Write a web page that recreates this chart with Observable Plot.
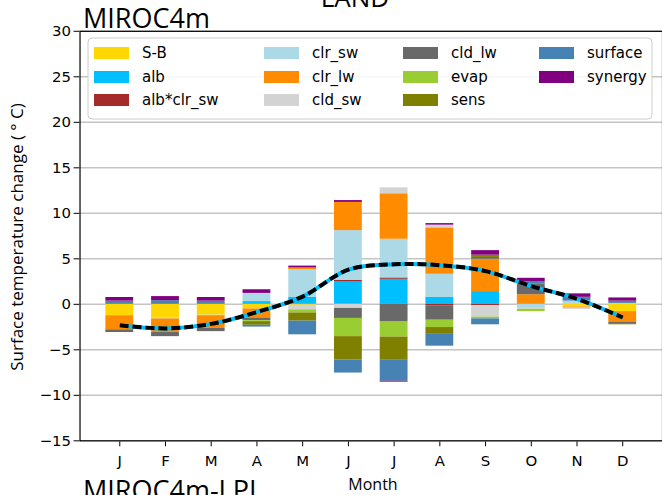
<!DOCTYPE html>
<html>
<head>
<meta charset="utf-8">
<script src="https://cdn.jsdelivr.net/npm/d3@7"></script>
<script src="https://cdn.jsdelivr.net/npm/@observablehq/plot@0.6"></script>
<style>
  html, body { margin: 0; padding: 0; overflow: hidden; background: #fff; }
  #page { position: relative; width: 662px; height: 495px; overflow: hidden; background: #fff; }
  #chart { position: absolute; left: 0; top: 0; }
  #overlay { position: absolute; left: 0; top: 0; pointer-events: none; }
</style>
</head>
<body>
<div id="page">
  <div id="chart"></div>
  <svg id="overlay" width="662" height="495"></svg>
</div>
<script>
// Months and tick labels
const months = [1, 2, 3, 4, 5, 6, 7, 8, 9, 10, 11, 12];
const monthLabels = ["J", "F", "M", "A", "M", "J", "J", "A", "S", "O", "N", "D"];
const yTicks = [-15, -10, -5, 0, 5, 10, 15, 20, 25, 30];

// Decomposition terms (stacking order) and their colours
const components = ["S-B", "alb", "alb*clr_sw", "clr_sw", "clr_lw", "cld_sw", "cld_lw", "evap", "sens", "surface", "synergy"];
const colors = ["#ffd700", "#00bfff", "#a52a2a", "#add8e6", "#ff8c00", "#d3d3d3", "#696969", "#9acd32", "#808000", "#4682b4", "#800080"];

// Monthly contributions (°C), J..D
const sb       = [-1.25, -1.5, -1.2, -0.5, -0.1, 0, 0, 0, 0, 0, -0.3, -0.8];
const alb      = [0, 0, 0, 0.3, 0.7, 2.45, 2.75, 0.75, 1.4, 0, 0, 0];
const albClrSw = [0, 0, 0, 0, 0.05, 0.2, 0.15, -0.15, -0.15, 0, 0, 0];
const clrSw    = [0, -0.1, -0.05, 0.9, 3.05, 5.45, 4.25, 2.55, 0, -0.45, 0.35, 0.1];
const clrLw    = [-1.55, -1.5, -1.4, -1.0, 0.2, 3.1, 5.0, 5.1, 3.55, 1.05, -0.12, -1.15];
const cldSw    = [0, 0, 0, 0, -0.5, -0.45, 0.65, 0.3, -1.25, -0.1, -0.13, 0];
const cldLw    = [-0.3, -0.45, -0.35, -0.3, 0, -1.1, -1.95, -1.6, 0.2, 1.2, 0, -0.25];
const evap     = [0, 0, 0, -0.1, -0.35, -2.0, -1.65, -0.8, -0.2, -0.25, 0, 0];
const sens     = [0, 0, 0, -0.4, -0.9, -2.55, -2.55, -0.75, 0.25, 0, 0, -0.05];
const surface  = [0.35, 0.4, 0.35, -0.2, -1.5, -1.45, -2.3, -1.3, -0.65, 0.25, 0.42, 0.25];
const synergy  = [0.4, 0.45, 0.4, 0.4, 0.2, 0.2, -0.1, 0.17, 0.5, 0.36, 0.38, 0.35];

// Total surface temperature change
const total = [-2.3, -2.65, -2.15, -0.85, 0.85, 3.8, 4.4, 4.3, 3.65, 2.0, 0.6, -1.45];

const series = [sb, alb, albClrSw, clrSw, clrLw, cldSw, cldLw, evap, sens, surface, synergy];

// Long table: one row per (term, month); input order drives the stacking order
const rows = [];
components.forEach((name, i) => {
  series[i].forEach((v, m) => { if (v !== 0) rows.push({month: months[m], name, value: v}); });
});
const totalRows = months.map((m, i) => ({month: m, value: total[i]}));

const chart = Plot.plot({
  width: 666,
  height: 495,
  marginLeft: 80,
  marginRight: 0,
  marginTop: 31,
  marginBottom: 52,
  style: {fontFamily: "DejaVu Sans, sans-serif", fontSize: "15px", color: "black", background: "white"},
  x: {type: "band", domain: months, paddingInner: 0.4, paddingOuter: 0.545, tickFormat: m => monthLabels[m - 1], tickSize: 6, tickPadding: 9, label: null},
  y: {domain: [-15, 30], ticks: yTicks, tickSize: 6, label: null},
  color: {domain: components, range: colors},
  marks: [
    Plot.ruleY(yTicks, {stroke: "#c4c4c4", strokeWidth: 1.5}),
    Plot.barY(rows, {x: "month", y: "value", fill: "name"}),
    Plot.line(totalRows, {x: "month", y: "value", stroke: "#00bfff", strokeWidth: 4, strokeLinecap: "butt", curve: "catmull-rom"}),
    Plot.line(totalRows, {x: "month", y: "value", stroke: "black", strokeWidth: 4, strokeLinecap: "butt", strokeDasharray: "9,4", curve: "catmull-rom"}),
    Plot.frame({stroke: "black", strokeWidth: 1.2})
  ]
});
document.getElementById("chart").appendChild(chart);

// Titles, axis labels and the legend
const svg = d3.select("#overlay");
const titleFont = "'Open Sans', sans-serif";

svg.append("text").attr("x", 355).attr("y", 7).attr("text-anchor", "middle")
  .style("font-family", titleFont).style("font-size", "26px").text("LAND");
svg.append("text").attr("x", 83).attr("y", 28)
  .style("font-family", titleFont).style("font-size", "27px").text("MIROC4m");
svg.append("text").attr("x", 83).attr("y", 500)
  .style("font-family", titleFont).style("font-size", "27px").text("MIROC4m-LPI");
svg.append("text").attr("x", 373).attr("y", 490).attr("text-anchor", "middle")
  .style("font-family", titleFont).style("font-size", "16px").text("Month");
svg.append("text").attr("transform", "translate(23,237) rotate(-90)").attr("text-anchor", "middle")
  .style("font-family", titleFont).style("font-size", "17px").text("Surface temperature change ( ° C)");

// Legend: four columns, filled column by column
const legend = svg.append("g");
legend.append("rect").attr("x", 88).attr("y", 38).attr("width", 564).attr("height", 81).attr("rx", 4)
  .attr("fill", "white").attr("fill-opacity", 0.85).attr("stroke", "#cccccc");
const colX = [94, 264, 403, 539];
const rowY = [53, 77, 100];
components.forEach((name, i) => {
  const c = Math.floor(i / 3), r = i % 3;
  legend.append("rect").attr("x", colX[c]).attr("y", rowY[r] - 6).attr("width", 35).attr("height", 12)
    .attr("fill", colors[i]);
  legend.append("text").attr("x", colX[c] + 48).attr("y", rowY[r]).attr("dy", "0.35em")
    .style("font-family", "DejaVu Sans, sans-serif").style("font-size", "15px").text(name);
});
</script>
</body>
</html>
